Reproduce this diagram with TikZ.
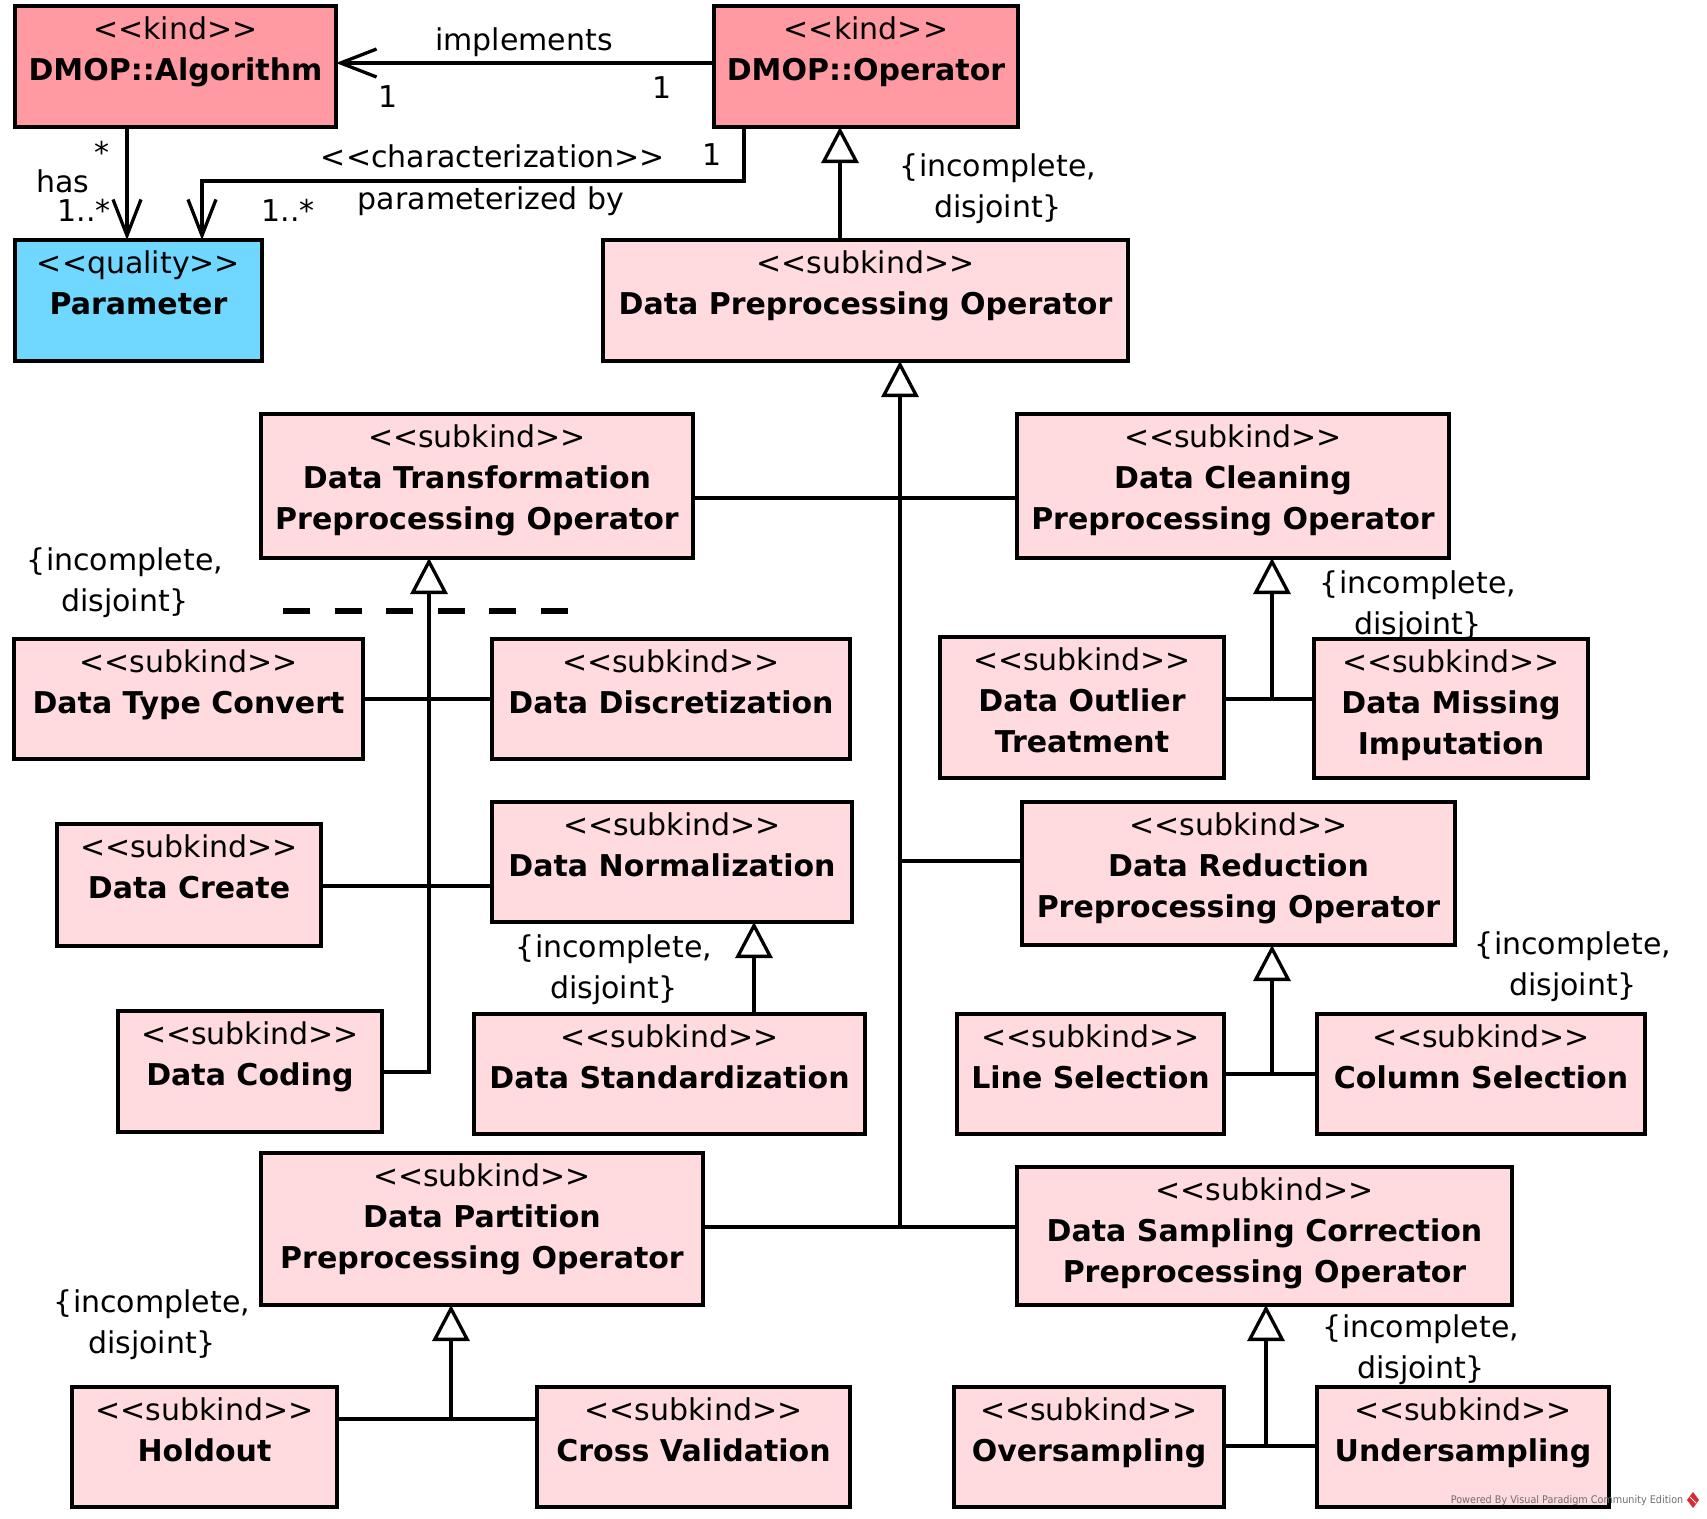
\documentclass[tikz,border=0pt]{standalone}
\usepackage{fontspec}
\usepackage{graphicx}
\setmainfont{DejaVu Sans}
\usetikzlibrary{arrows.meta}

\definecolor{kindfill}{RGB}{255,154,162}
\definecolor{subfill}{RGB}{255,218,222}
\definecolor{qualfill}{RGB}{112,215,255}
\definecolor{wmgray}{RGB}{110,110,110}
\definecolor{logored}{RGB}{220,40,50}

\tikzset{
  classbox/.style={draw, line width=3.1pt, rectangle, anchor=north west, inner sep=0pt, outer sep=0pt},
  kindbox/.style={classbox, fill=kindfill},
  subbox/.style={classbox, fill=subfill},
  qualbox/.style={classbox, fill=qualfill},
  classtext/.style={anchor=north, align=center, inner sep=0pt},
  conn/.style={line width=3.3pt},
  assoc/.style={conn, -{Straight Barb[length=36pt,width=28pt]}},
  gen/.style={conn, -{Triangle[open,length=36pt,width=37pt]}},
  lbl/.style={inner sep=0pt, anchor=base},
  gsetlbl/.style={inner sep=0pt, align=center},
}

% guillemet-free stereotype brackets
\newcommand{\stereo}[1]{\mbox{<}\mbox{<}#1\mbox{>}\mbox{>}}
\newcommand{\nm}[1]{\textbf{#1}}
% class box: name, style, top-left corner, width, height, stereotype, name lines
\newcommand{\umlclass}[7]{%
  \node[#2, minimum width=#4pt, minimum height=#5pt] (#1) at (#3) {};
  \node[classtext] (#1-t) at ([yshift=-10pt]#1.north) {\rule{0pt}{23pt}\stereo{#6}\\#7};
}

\begin{document}
\begin{tikzpicture}[x=1pt, y=-1pt, font=\fontsize{30}{41}\selectfont]
\fill[white] (0,0) rectangle (1707,1518);
\useasboundingbox (0,0) rectangle (1707,1518);

% classes
\umlclass{alg}{kindbox}{15,6}{321}{121}{kind}{\nm{DMOP::Algorithm}}
\umlclass{op}{kindbox}{714,6}{304}{121}{kind}{\nm{DMOP::Operator}}
\umlclass{par}{qualbox}{15,240}{247}{121}{quality}{\nm{Parameter}}
\umlclass{dpo}{subbox}{603,240}{525}{121}{subkind}{\nm{Data Preprocessing Operator}}
\umlclass{dto}{subbox}{261,414}{432}{144}{subkind}{\nm{Data Transformation}\\\nm{Preprocessing Operator}}
\umlclass{dco}{subbox}{1017,414}{432}{144}{subkind}{\nm{Data Cleaning}\\\nm{Preprocessing Operator}}
\umlclass{dtc}{subbox}{14,639}{349}{120}{subkind}{\nm{Data Type Convert}}
\umlclass{ddi}{subbox}{492,639}{358}{120}{subkind}{\nm{Data Discretization}}
\umlclass{dot}{subbox}{940,637}{284}{141}{subkind}{\nm{Data Outlier}\\\nm{Treatment}}
\umlclass{dmi}{subbox}{1314,639}{274}{139}{subkind}{\nm{Data Missing}\\\nm{Imputation}}
\umlclass{dcr}{subbox}{57,824}{264}{122}{subkind}{\nm{Data Create}}
\umlclass{dno}{subbox}{492,802}{360}{120}{subkind}{\nm{Data Normalization}}
\umlclass{dre}{subbox}{1022,802}{433}{143}{subkind}{\nm{Data Reduction}\\\nm{Preprocessing Operator}}
\umlclass{dcd}{subbox}{118,1011}{264}{121}{subkind}{\nm{Data Coding}}
\umlclass{dst}{subbox}{474,1014}{391}{120}{subkind}{\nm{Data Standardization}}
\umlclass{lse}{subbox}{957,1014}{267}{120}{subkind}{\nm{Line Selection}}
\umlclass{cse}{subbox}{1317,1014}{328}{120}{subkind}{\nm{Column Selection}}
\umlclass{dpa}{subbox}{261,1153}{442}{152}{subkind}{\nm{Data Partition}\\\nm{Preprocessing Operator}}
\umlclass{dsc}{subbox}{1017,1167}{495}{138}{subkind}{\nm{Data Sampling Correction}\\\nm{Preprocessing Operator}}
\umlclass{hol}{subbox}{72,1387}{265}{120}{subkind}{\nm{Holdout}}
\umlclass{crv}{subbox}{537,1387}{313}{120}{subkind}{\nm{Cross Validation}}
\umlclass{ovs}{subbox}{954,1387}{270}{120}{subkind}{\nm{Oversampling}}
\umlclass{uns}{subbox}{1317,1387}{292}{120}{subkind}{\nm{Undersampling}}

% routing coordinates
\coordinate (iy) at (0,63);
\coordinate (hx) at (127,0);
\coordinate (c1) at (744,181);
\coordinate (c2) at (202,181);
\coordinate (gx) at (840,0);
\coordinate (tb) at (900,1227);
\coordinate (b1) at (900,498);
\coordinate (b2) at (900,861);
\coordinate (jt) at (429,1072);
\coordinate (jt1) at (429,699);
\coordinate (jt2) at (429,886);
\coordinate (ds1) at (283,611);
\coordinate (ds2) at (568,611);
\coordinate (jc) at (1272,699);
\coordinate (jn) at (754,0);
\coordinate (jr) at (1272,1074);
\coordinate (jp) at (451,1419);
\coordinate (js) at (1266,1446);

% associations
\draw[assoc] (op.west |- iy) -- (alg.east |- iy);
\draw[assoc] (alg.south -| hx) -- (par.north -| hx);
\draw[assoc] (op.south -| c1) -- (c1) -- (c2) -- (par.north -| c2);

% generalizations
\draw[gen] (dpo.north -| gx) -- (op.south -| gx);
\draw[gen] (tb) -- (dpo.south -| tb);
\draw[conn] (dto.east |- b1) -- (dco.west |- b1);
\draw[conn] (b2) -- (dre.west |- b2);
\draw[conn] (dpa.east |- tb) -- (dsc.west |- tb);

\draw[gen] (dcd.east |- jt) -| (dto.south -| jt);
\draw[conn] (dtc.east |- jt1) -- (ddi.west |- jt1);
\draw[conn] (dcr.east |- jt2) -- (dno.west |- jt2);
\draw[line width=5.5pt, dash pattern=on 27pt off 24.6pt] (ds1) -- (ds2);

\draw[gen] (jc) -- (dco.south -| jc);
\draw[conn] (dot.east |- jc) -- (dmi.west |- jc);

\draw[gen] (dst.north -| jn) -- (dno.south -| jn);

\draw[gen] (jr) -- (dre.south -| jr);
\draw[conn] (lse.east |- jr) -- (cse.west |- jr);

\draw[gen] (jp) -- (dpa.south -| jp);
\draw[conn] (hol.east |- jp) -- (crv.west |- jp);

\draw[gen] (js) -- (dsc.south -| js);
\draw[conn] (ovs.east |- js) -- (uns.west |- js);

% association labels
\node[lbl] (l-impl) at (524,50) {implements};
\node[lbl] (l-impl-a) at (388,107) {1};
\node[lbl] (l-impl-o) at (662,98) {1};
\node[lbl] (l-has-s) at (102,163) {*};
\node[lbl] (l-has) at (63,192) {has};
\node[lbl] (l-has-p) at (84,221) {1..*};
\node[lbl] (l-char) at (493,167) {\stereo{characterization}};
\node[lbl] (l-char-o) at (712,165) {1};
\node[lbl] (l-char-n) at (491,209) {parameterized by};
\node[lbl] (l-char-p) at (288,221) {1..*};

% generalization set labels
\node[gsetlbl] (g-op) at (998,189) {\{incomplete,\\disjoint\}};
\node[gsetlbl] (g-dto) at (125,583) {\{incomplete,\\disjoint\}};
\node[gsetlbl] (g-dco) at (1418,606) {\{incomplete,\\disjoint\}};
\node[gsetlbl] (g-dno) at (614,970) {\{incomplete,\\disjoint\}};
\node[gsetlbl] (g-dre) at (1573,967) {\{incomplete,\\disjoint\}};
\node[gsetlbl] (g-dpa) at (152,1325) {\{incomplete,\\disjoint\}};
\node[gsetlbl] (g-dsc) at (1421,1350) {\{incomplete,\\disjoint\}};

% footer
\node[text=wmgray, font=\fontsize{10.5}{12}\selectfont, inner sep=0pt] (wm) at (1567,1501)
  {\scalebox{0.92}[1]{Powered By Visual Paradigm Community Edition}};
\fill[logored] (1693,1492) -- (1699,1500) -- (1693,1508) -- (1687,1500) -- cycle;
\draw[white, line width=1pt] (1690,1497) -- (1696,1503);
\end{tikzpicture}
\end{document}
